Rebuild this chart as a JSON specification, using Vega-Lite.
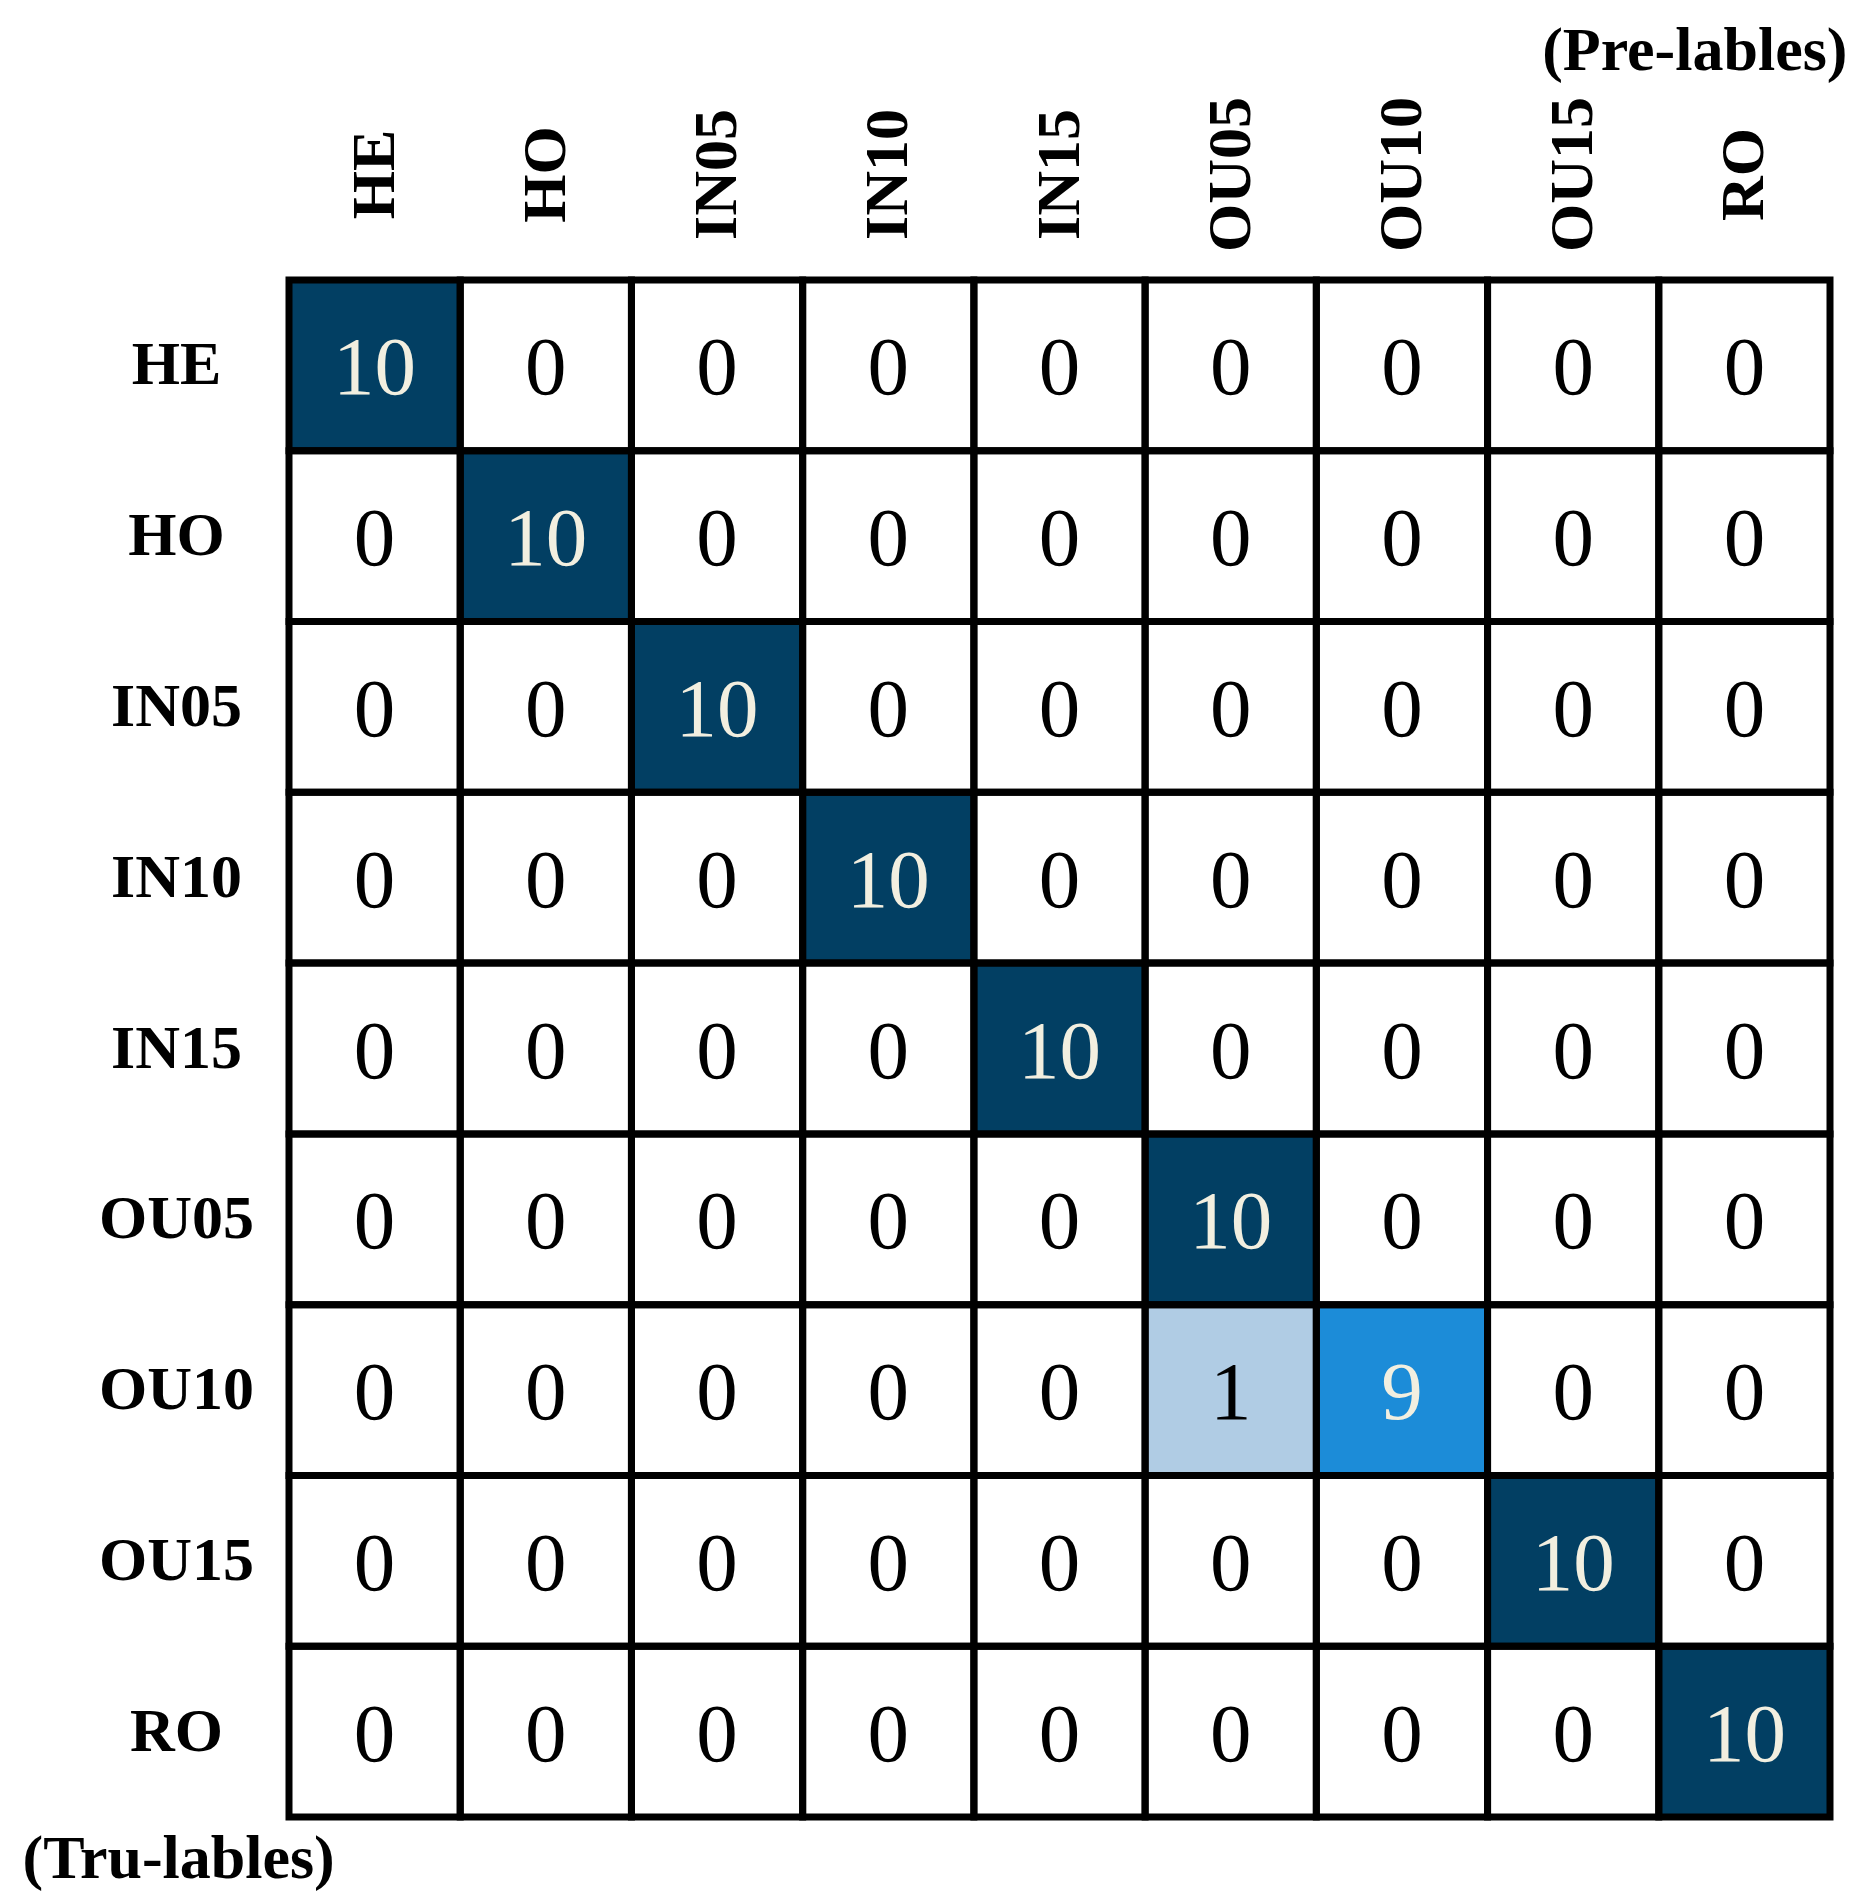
{
  "$schema": "https://vega.github.io/schema/vega-lite/v6.json",
  "autosize": "none",
  "width": 1541,
  "height": 1537,
  "padding": {"left": 289, "top": 280, "right": 30, "bottom": 87},
  "background": "white",
  "view": {"stroke": null},
  "data": {"values": [
    {"t":"HE","p":"HE","v":10},{"t":"HE","p":"HO","v":0},{"t":"HE","p":"IN05","v":0},{"t":"HE","p":"IN10","v":0},{"t":"HE","p":"IN15","v":0},{"t":"HE","p":"OU05","v":0},{"t":"HE","p":"OU10","v":0},{"t":"HE","p":"OU15","v":0},{"t":"HE","p":"RO","v":0},
    {"t":"HO","p":"HE","v":0},{"t":"HO","p":"HO","v":10},{"t":"HO","p":"IN05","v":0},{"t":"HO","p":"IN10","v":0},{"t":"HO","p":"IN15","v":0},{"t":"HO","p":"OU05","v":0},{"t":"HO","p":"OU10","v":0},{"t":"HO","p":"OU15","v":0},{"t":"HO","p":"RO","v":0},
    {"t":"IN05","p":"HE","v":0},{"t":"IN05","p":"HO","v":0},{"t":"IN05","p":"IN05","v":10},{"t":"IN05","p":"IN10","v":0},{"t":"IN05","p":"IN15","v":0},{"t":"IN05","p":"OU05","v":0},{"t":"IN05","p":"OU10","v":0},{"t":"IN05","p":"OU15","v":0},{"t":"IN05","p":"RO","v":0},
    {"t":"IN10","p":"HE","v":0},{"t":"IN10","p":"HO","v":0},{"t":"IN10","p":"IN05","v":0},{"t":"IN10","p":"IN10","v":10},{"t":"IN10","p":"IN15","v":0},{"t":"IN10","p":"OU05","v":0},{"t":"IN10","p":"OU10","v":0},{"t":"IN10","p":"OU15","v":0},{"t":"IN10","p":"RO","v":0},
    {"t":"IN15","p":"HE","v":0},{"t":"IN15","p":"HO","v":0},{"t":"IN15","p":"IN05","v":0},{"t":"IN15","p":"IN10","v":0},{"t":"IN15","p":"IN15","v":10},{"t":"IN15","p":"OU05","v":0},{"t":"IN15","p":"OU10","v":0},{"t":"IN15","p":"OU15","v":0},{"t":"IN15","p":"RO","v":0},
    {"t":"OU05","p":"HE","v":0},{"t":"OU05","p":"HO","v":0},{"t":"OU05","p":"IN05","v":0},{"t":"OU05","p":"IN10","v":0},{"t":"OU05","p":"IN15","v":0},{"t":"OU05","p":"OU05","v":10},{"t":"OU05","p":"OU10","v":0},{"t":"OU05","p":"OU15","v":0},{"t":"OU05","p":"RO","v":0},
    {"t":"OU10","p":"HE","v":0},{"t":"OU10","p":"HO","v":0},{"t":"OU10","p":"IN05","v":0},{"t":"OU10","p":"IN10","v":0},{"t":"OU10","p":"IN15","v":0},{"t":"OU10","p":"OU05","v":1},{"t":"OU10","p":"OU10","v":9},{"t":"OU10","p":"OU15","v":0},{"t":"OU10","p":"RO","v":0},
    {"t":"OU15","p":"HE","v":0},{"t":"OU15","p":"HO","v":0},{"t":"OU15","p":"IN05","v":0},{"t":"OU15","p":"IN10","v":0},{"t":"OU15","p":"IN15","v":0},{"t":"OU15","p":"OU05","v":0},{"t":"OU15","p":"OU10","v":0},{"t":"OU15","p":"OU15","v":10},{"t":"OU15","p":"RO","v":0},
    {"t":"RO","p":"HE","v":0},{"t":"RO","p":"HO","v":0},{"t":"RO","p":"IN05","v":0},{"t":"RO","p":"IN10","v":0},{"t":"RO","p":"IN15","v":0},{"t":"RO","p":"OU05","v":0},{"t":"RO","p":"OU10","v":0},{"t":"RO","p":"OU15","v":0},{"t":"RO","p":"RO","v":10}
  ]},
  "encoding": {
    "x": {
      "field": "p", "type": "nominal",
      "sort": ["HE","HO","IN05","IN10","IN15","OU05","OU10","OU15","RO"],
      "scale": {"paddingInner": 0, "paddingOuter": 0},
      "axis": {
        "orient": "top", "domain": false, "ticks": false, "grid": false,
        "labelAngle": 270, "labelAlign": "center", "labelBaseline": "middle",
        "labelPadding": 106, "labelFont": "Liberation Serif", "labelFontWeight": "bold",
        "labelFontSize": 62, "labelColor": "black", "labelOverlap": false, "labelFlush": false,
        "labelBound": false,
        "title": "(Pre-lables)", "titleFont": "Liberation Serif", "titleFontWeight": "bold",
        "titleFontSize": 62, "titleColor": "black", "titleAngle": 0, "titleAlign": "right",
        "titleBaseline": "alphabetic", "titleX": 1558, "titleY": -211, "titleAnchor": null
      }
    },
    "y": {
      "field": "t", "type": "nominal",
      "sort": ["HE","HO","IN05","IN10","IN15","OU05","OU10","OU15","RO"],
      "scale": {"paddingInner": 0, "paddingOuter": 0},
      "axis": {
        "orient": "left", "domain": false, "ticks": false, "grid": false,
        "labelAngle": 0, "labelAlign": "center", "labelBaseline": "middle",
        "labelPadding": 113, "labelFont": "Liberation Serif", "labelFontWeight": "bold",
        "labelFontSize": 62, "labelColor": "black", "labelOverlap": false, "labelFlush": false,
        "labelBound": false,
        "title": "(Tru-lables)", "titleFont": "Liberation Serif", "titleFontWeight": "bold",
        "titleFontSize": 62, "titleColor": "black", "titleAngle": 0, "titleAlign": "left",
        "titleBaseline": "alphabetic", "titleX": -267, "titleY": 1597, "titleAnchor": null
      }
    }
  },
  "layer": [
    {
      "mark": {"type": "rect", "strokeWidth": 0},
      "encoding": {
        "color": {
          "field": "v", "type": "quantitative",
          "scale": {"type": "linear", "domain": [0, 1, 9, 10], "range": ["#ffffff", "#b0cce4", "#1c8cd8", "#023f63"], "interpolate": "rgb"},
          "legend": null
        }
      }
    },
    {
      "mark": {"type": "rect", "fill": null, "fillOpacity": 0, "stroke": "black", "strokeWidth": 7},
      "encoding": {}
    },
    {
      "mark": {"type": "text", "font": "Liberation Serif", "fontSize": 83, "align": "center", "baseline": "middle", "dy": 4},
      "encoding": {
        "text": {"field": "v", "type": "quantitative"},
        "color": {
          "condition": {"test": "datum.v >= 5", "value": "#f2efe0"},
          "value": "black"
        }
      }
    }
  ]
}
